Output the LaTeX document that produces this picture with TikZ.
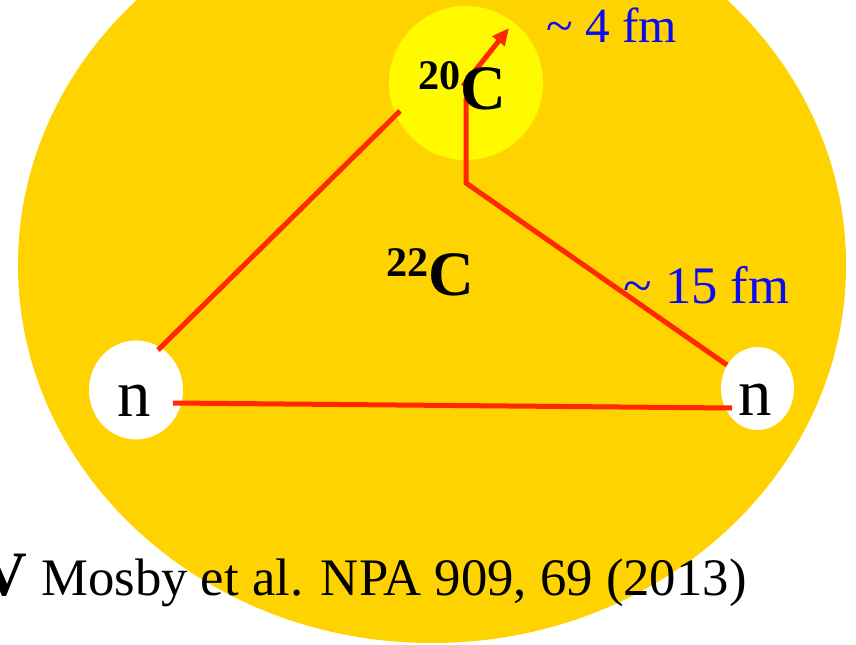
\documentclass[tikz,border=0pt]{standalone}
\usepackage{fontspec}
\setmainfont{Liberation Serif}
\usetikzlibrary{arrows.meta,shapes.geometric}

\definecolor{halogold}{RGB}{255,211,0}
\definecolor{coreyellow}{RGB}{255,250,0}
\definecolor{bondred}{RGB}{255,40,0}
\definecolor{sizeblue}{RGB}{10,10,245}

\begin{document}
\begin{tikzpicture}[x=0.2mm,y=-0.2mm]
\tikzset{
  halo/.style={ellipse,fill=halogold,inner sep=0pt,minimum width=165.6mm,minimum height=151.2mm},
  core/.style={circle,fill=coreyellow,inner sep=0pt,minimum size=30.8mm},
  neutron/.style={ellipse,fill=white,inner sep=0pt},
  ntext/.style={anchor=base,inner sep=0pt,font=\fontsize{38}{38}\selectfont},
  nucleus/.style={anchor=base east,inner sep=0pt,font=\bfseries\fontsize{36}{36}\selectfont},
  sizelabel/.style={anchor=base west,inner sep=0pt,text=sizeblue},
  bond/.style={draw=bondred,line width=1mm},
  radiusarrow/.style={bond,-{Triangle[length=3.4mm,width=3mm]}}
}
\useasboundingbox (0,0) rectangle (856,645);
\clip (0,0) rectangle (856,645);
\node[halo] (c22) at (432,265) {};
\node[core] (c20) at (466,83) {};
\node[neutron,minimum width=18.8mm,minimum height=19.8mm] (n_L) at (136,390) {};
\node[neutron,minimum width=14.6mm,minimum height=16.6mm] (n_R) at (757.5,388.5) {};
% bond end points
\coordinate (l_top) at (400,111);
\coordinate (l_bot) at (158,350);
\coordinate (h_L) at (173,403);
\coordinate (h_R) at (732,408);
\coordinate (r_bot) at (727,365);
\coordinate (cm) at (466,183);
\coordinate (c_top) at (466,98);
\coordinate (a_start) at (463,86);
\coordinate (a_end) at (509,28);
\draw[bond] (l_bot) -- (l_top);
\draw[bond] (h_L) -- (h_R);
\draw[bond] (r_bot) -- (cm) -- (c_top);
\draw[radiusarrow] (a_start) -- (a_end);
% labels
\node[nucleus] (t_20C) at (507,110) {\raisebox{11.4pt}{\fontsize{24}{24}\selectfont 20}C};
\node[nucleus] (t_22C) at (475,295) {\raisebox{10.8pt}{\fontsize{24}{24}\selectfont 22}C};
\node[ntext] (t_nL) at (134.5,416) {n};
\node[ntext] (t_nR) at (755.5,415) {n};
\node[sizelabel,font=\fontsize{28}{28}\selectfont] (t_r20) at (546,43) {\textasciitilde{} 4 fm};
\node[sizelabel,font=\fontsize{30}{30}\selectfont] (t_r22) at (623,303) {\textasciitilde{} 15 fm};
\node[anchor=base east,inner sep=0pt,font=\bfseries\fontsize{36}{36}\selectfont] (t_V) at (28,595) {V};
\node[anchor=base east,inner sep=0pt,font=\fontsize{30}{30}\selectfont] (t_ref) at (747,595) {Mosby et al. NPA 909, 69 (2013)};
\end{tikzpicture}
\end{document}
